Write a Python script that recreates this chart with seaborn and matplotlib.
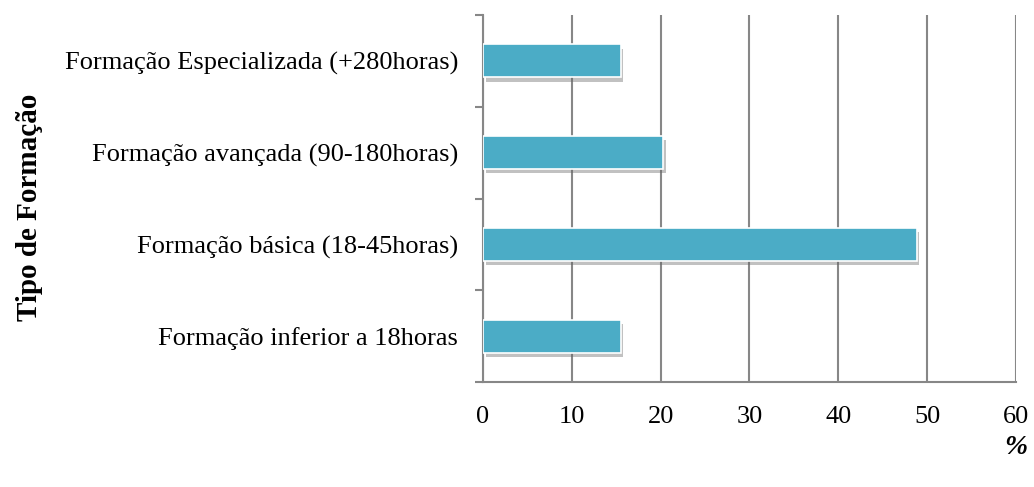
import numpy as np
import pandas as pd
import matplotlib
matplotlib.use("Agg")
import matplotlib.pyplot as plt
import matplotlib.patheffects as pe
from matplotlib.ticker import FixedLocator
import seaborn as sns

# data
categorias = ["Formação Especializada (+280horas)",
              "Formação avançada (90-180horas)",
              "Formação básica (18-45horas)",
              "Formação inferior a 18horas"]
percentagens = [15.5, 20.3, 48.8, 15.5]
x_ticks = [0, 10, 20, 30, 40, 50, 60]

df = pd.DataFrame({"Tipo": categorias, "Pct": percentagens})

sns.set_style("white")
plt.rcParams["font.family"] = ["Liberation Serif", "DejaVu Serif"]
plt.rcParams["text.color"] = "black"

fig = plt.figure(figsize=(10.34, 4.87), dpi=100)
ax = fig.add_axes([0.467, 0.2156, 0.5157, 0.7535])

sns.barplot(data=df, x="Pct", y="Tipo", orient="h", color="#4BACC6",
            saturation=1, width=0.36, ax=ax, zorder=3)

for bar in ax.patches:
    bar.set_edgecolor("white")
    bar.set_linewidth(1.2)
    bar.set_path_effects([pe.SimplePatchShadow(offset=(2, -3), shadow_rgbFace="#666666", alpha=0.4),
                          pe.Normal()])

ax.set_xlim(0, 60)
ax.set_ylim(3.5, -0.5)
ax.set_xticks(x_ticks)
ax.xaxis.grid(True, color="#878787", linewidth=1.5, zorder=0)
ax.set_axisbelow(True)

for s in ["top", "right"]:
    ax.spines[s].set_visible(False)
for s in ["left", "bottom"]:
    ax.spines[s].set_color("#878787")
    ax.spines[s].set_linewidth(1.5)

ax.yaxis.set_minor_locator(FixedLocator([-0.5, 0.5, 1.5, 2.5, 3.5]))
ax.tick_params(axis="y", which="major", length=0, pad=18, labelsize=19, labelcolor="black")
ax.tick_params(axis="y", which="minor", length=6, width=1.5, color="#878787", direction="out", left=True)
ax.tick_params(axis="x", which="major", length=6, width=1.5, color="#878787", direction="out",
               pad=11, labelsize=19, labelcolor="black")

ax.set_ylabel("")
ax.set_xlabel("")
fig.text(0.029, 0.575, "Tipo de Formação", rotation=90, fontsize=21, fontweight="bold",
         ha="center", va="center", color="black")
fig.text(0.982, 0.082, "%", fontsize=20, fontweight="bold", fontstyle="italic",
         ha="center", va="center", color="black")

fig.savefig("out.png", dpi=100)
